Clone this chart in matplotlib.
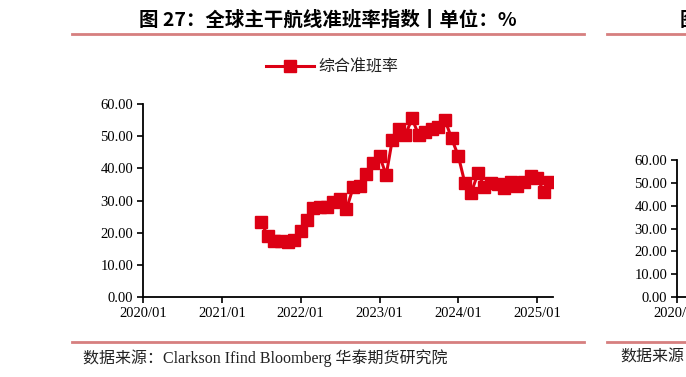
import numpy as np
import pandas as pd
import matplotlib
matplotlib.use("Agg")
import matplotlib.pyplot as plt
import matplotlib.dates as mdates
from matplotlib.lines import Line2D

# monthly index, 2021/07 - 2025/03
dates = pd.date_range("2021-07-01", periods=45, freq="MS")
punct = [23.4, 19.0, 17.4, 17.4, 17.2, 17.7, 20.5, 23.9, 27.8, 28.1,
         28.1, 29.6, 30.4, 27.3, 34.1, 34.5, 38.1, 41.6, 43.9, 37.9,
         48.8, 52.2, 50.4, 55.5, 50.4, 51.4, 52.2, 52.9, 55.0, 49.3,
         43.9, 35.3, 32.4, 38.4, 34.3, 35.3, 35.1, 33.8, 35.8, 34.5,
         35.8, 37.6, 36.9, 32.7, 35.8]
yticks = [0, 10, 20, 30, 40, 50, 60]
xticks = pd.to_datetime(["2020-01-01", "2021-01-01", "2022-01-01",
                         "2023-01-01", "2024-01-01", "2025-01-01"])

title = "图 27：全球主干航线准班率指数丨单位：%"
series_name = "综合准班率"
source = "数据来源：Clarkson Ifind Bloomberg 华泰期货研究院"

red = "#dc0014"
rule = "#d67f7f"
serif = ["Liberation Serif", "Noto Sans CJK SC"]
cjk = ["Noto Sans CJK SC", "DejaVu Sans"]

W, H = 686, 377
fig = plt.figure(figsize=(W / 100, H / 100), dpi=100)

def fx(px):
    return px / W

def fy(py):
    return 1 - py / H

def style_axis(ax, ticks):
    for s in ["top", "right"]:
        ax.spines[s].set_visible(False)
    for s in ["left", "bottom"]:
        ax.spines[s].set_linewidth(1.3)
    ax.set_ylim(0, 60)
    ax.set_yticks(yticks)
    ax.set_yticklabels(["%.2f" % v for v in yticks])
    ax.set_xticks(ticks)
    ax.xaxis.set_major_formatter(mdates.DateFormatter("%Y/%m"))
    ax.tick_params(direction="out", length=4, width=1.2, pad=3,
                   labelsize=10.5, colors="black")
    for lab in ax.get_xticklabels() + ax.get_yticklabels():
        lab.set_family(serif)

# main chart
ax = fig.add_axes([fx(143), fy(297), fx(553 - 143), (297 - 104) / H])
ax.plot(dates, punct, color=red, lw=2.2, marker="s", ms=8.8, label=series_name)
ax.set_xlim(pd.Timestamp("2020-01-01"), pd.Timestamp("2025-03-15"))
style_axis(ax, xticks)
ax.legend(loc="center", bbox_to_anchor=(fx(332), fy(67)),
          bbox_transform=fig.transFigure, frameon=False, handlelength=3.0,
          handletextpad=0.3, prop={"family": cjk, "size": 11.5},
          labelcolor="#222222")

# neighbouring chart, cut off at the right edge
ax2 = fig.add_axes([fx(677), fy(297), 0.3, (297 - 160) / H])
ax2.set_xlim(pd.Timestamp("2020-01-01"), pd.Timestamp("2025-03-15"))
style_axis(ax2, xticks[:1])

# titles, rules and source lines
fig.text(fx(328), fy(20), title, ha="center", va="center", fontsize=14,
         fontweight="bold", family=cjk)
fig.text(fx(680), fy(20), "图 28", ha="left", va="center", fontsize=14,
         fontweight="bold", family=cjk)
for x0, x1 in [(72, 584), (607, 700)]:
    fig.add_artist(Line2D([fx(x0), fx(x1)], [fy(33.5), fy(33.5)],
                          color=rule, lw=2))
    fig.add_artist(Line2D([fx(x0), fx(x1)], [fy(341.5), fy(341.5)],
                          color=rule, lw=2))
fig.text(fx(83), fy(358), source, ha="left", va="center", fontsize=11.5,
         family=serif, color="#222222")
fig.text(fx(620), fy(358), "数据来源：", ha="left", va="center", fontsize=11.5,
         family=serif, color="#222222")

fig.savefig("out.png", dpi=100)
